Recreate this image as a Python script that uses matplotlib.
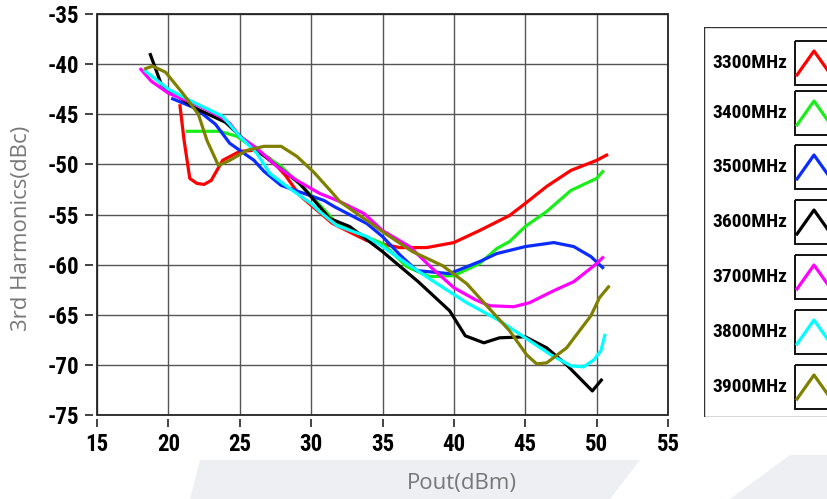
import matplotlib
matplotlib.use('Agg')
import matplotlib.pyplot as plt
from matplotlib.patches import Polygon, Rectangle

# data
labels = ['3300MHz', '3400MHz', '3500MHz', '3600MHz', '3700MHz', '3800MHz', '3900MHz']
colors = ['#ff0000', '#1aee1a', '#0a2cff', '#000000', '#ff00ff', '#00ffff', '#808000']

x3300 = [20.8, 21.1, 21.5, 22.0, 22.5, 23.0, 23.8, 25.0, 26.0, 27.1, 28.2, 29.2, 31.5, 33.9, 36.2, 38.1,
         40.0, 41.8, 43.9, 45.0, 46.5, 48.2, 50.0, 50.8]
y3300 = [-44.0, -47.6, -51.4, -51.9, -52.0, -51.6, -49.6, -48.7, -48.6, -49.4, -51.1, -53.1, -55.9, -57.6,
         -58.3, -58.3, -57.8, -56.6, -55.1, -53.9, -52.2, -50.6, -49.6, -49.0]

x3400 = [21.2, 22.5, 23.6, 24.8, 26.2, 27.9, 29.8, 31.6, 33.5, 35.0, 36.7, 38.3, 40.0, 41.8, 43.0, 43.9,
         45.0, 46.5, 48.2, 50.0, 50.5]
y3400 = [-46.7, -46.7, -46.7, -47.2, -48.6, -50.2, -52.8, -55.6, -57.0, -57.9, -60.2, -61.2, -61.1, -59.9,
         -58.4, -57.7, -56.2, -54.7, -52.6, -51.4, -50.6]

x3500 = [20.2, 21.9, 23.3, 24.3, 26.0, 26.7, 27.9, 29.5, 30.9, 31.6, 33.9, 35.0, 36.2, 37.4, 39.7, 41.8,
         43.0, 45.0, 47.0, 48.4, 49.6, 50.5]
y3500 = [-43.4, -44.4, -46.0, -47.9, -49.6, -50.7, -52.1, -52.9, -53.6, -54.2, -55.9, -57.2, -59.0, -60.6,
         -60.9, -59.7, -58.9, -58.2, -57.8, -58.2, -59.2, -60.4]

x3600 = [18.7, 19.5, 20.0, 21.9, 24.0, 25.2, 27.1, 29.2, 31.3, 32.7, 35.0, 37.5, 39.7, 40.8, 42.1, 43.2,
         45.0, 46.5, 47.9, 49.7, 50.4]
y3600 = [-38.9, -42.0, -42.6, -44.4, -45.8, -47.4, -49.6, -51.9, -55.4, -56.2, -58.7, -61.7, -64.6, -67.1,
         -67.8, -67.3, -67.2, -68.3, -70.0, -72.6, -71.4]

x3700 = [18.0, 18.8, 20.0, 21.9, 23.6, 24.3, 25.0, 26.2, 27.6, 29.0, 30.6, 32.0, 33.7, 35.0, 36.9, 38.5,
         40.0, 41.5, 42.5, 44.2, 45.3, 47.0, 48.4, 50.0, 50.5]
y3700 = [-40.4, -41.7, -42.9, -44.0, -45.2, -45.9, -47.2, -48.4, -50.2, -51.6, -52.9, -53.7, -54.9, -56.6,
         -58.2, -60.4, -62.3, -63.5, -64.1, -64.2, -63.8, -62.6, -61.7, -59.9, -59.2]

x3800 = [18.3, 20.0, 21.9, 23.8, 25.0, 26.2, 27.1, 28.3, 30.0, 30.6, 31.8, 33.9, 35.0, 36.2, 38.5, 40.9,
         43.2, 45.0, 46.8, 48.2, 49.1, 49.8, 50.3, 50.6]
y3800 = [-40.6, -42.5, -43.9, -45.2, -47.2, -48.9, -50.9, -52.2, -53.9, -54.7, -56.1, -57.2, -58.2, -59.4,
         -61.6, -63.8, -65.6, -67.3, -69.0, -70.1, -70.2, -69.5, -68.6, -66.9]

x3900 = [18.3, 18.9, 19.8, 21.0, 22.1, 22.7, 23.5, 24.3, 25.5, 26.7, 27.9, 29.0, 30.2, 31.4, 32.0, 33.9,
         35.2, 37.1, 39.2, 40.9, 42.3, 43.9, 45.1, 45.8, 46.5, 47.9, 48.8, 49.6, 50.2, 50.9]
y3900 = [-40.5, -40.2, -40.8, -42.9, -45.0, -47.6, -50.1, -49.6, -48.6, -48.2, -48.2, -49.2, -50.8, -52.7,
         -53.7, -55.6, -56.9, -58.7, -60.1, -61.9, -64.1, -66.6, -69.0, -69.9, -69.8, -68.3, -66.6, -65.1,
         -63.3, -62.1]

series_x = [x3300, x3400, x3500, x3600, x3700, x3800, x3900]
series_y = [y3300, y3400, y3500, y3600, y3700, y3800, y3900]

xticks = [15, 20, 25, 30, 35, 40, 45, 50, 55]
yticks = [-35, -40, -45, -50, -55, -60, -65, -70, -75]

plt.rcParams['axes.unicode_minus'] = False
W, H = 828, 499
narrow = ['Liberation Sans Narrow', 'DejaVu Sans Condensed', 'Roboto Condensed', 'Roboto']
fig = plt.figure(figsize=(W / 100, H / 100), dpi=100)

# faint background shapes at the bottom
bg = '#eeeff3'
fig.patches.append(Polygon([(190 / W, 0), (200 / W, 39 / H), (640 / W, 39 / H), (610 / W, 0)],
                           closed=True, transform=fig.transFigure, facecolor=bg, edgecolor='none', zorder=0))
fig.patches.append(Polygon([(730 / W, 0), (790 / W, 44 / H), (828 / W, 44 / H), (828 / W, 0)],
                           closed=True, transform=fig.transFigure, facecolor=bg, edgecolor='none', zorder=0))

ax = fig.add_axes([97 / W, (H - 415) / H, 571 / W, 401 / H])
ax.patch.set_alpha(0)
for xs, ys, c in zip(series_x, series_y, colors):
    ax.plot(xs, ys, color=c, lw=2.3, solid_capstyle='butt', zorder=3)

ax.set_xlim(15, 55)
ax.set_ylim(-75, -35)
ax.set_xticks(xticks)
ax.set_yticks(yticks)
ax.grid(True, color='#555555', lw=1.0)
ax.set_axisbelow(True)
for s in ax.spines.values():
    s.set_visible(False)
ax.spines['left'].set_position(('outward', 3))
ax.spines['bottom'].set_position(('outward', 3))
ax.add_patch(Rectangle((0, 0), 1, 1, transform=ax.transAxes, fill=False,
                       edgecolor='#222222', lw=1.3, zorder=4, clip_on=False))
ax.tick_params(direction='out', length=6, width=1.2, color='#222222', pad=4, labelsize=16.5)
for lab in ax.get_xticklabels() + ax.get_yticklabels():
    lab.set_family(narrow)
    lab.set_fontweight('bold')

fig.text(22 / W, 1 - 228 / H, '3rd Harmonics(dBc)', rotation=90, ha='center', va='center',
         fontsize=16, color='#777777', family='Open Sans')
fig.text(462 / W, 1 - 483 / H, 'Pout(dBm)', ha='center', va='center',
         fontsize=16, color='#777777', family='Open Sans')

# legend panel, clipped by the right edge of the figure like the reference
lg = fig.add_axes([704 / W, (H - 417) / H, 160 / W, 390 / H])
lg.set_xlim(0, 160)
lg.set_ylim(390, 0)
lg.axis('off')
lg.add_patch(Rectangle((0, 0), 160, 390, fill=False, edgecolor='#333333', lw=1.0))
row_y = [36, 86, 140, 195, 250, 305, 360]
for yc, lab, c in zip(row_y, labels, colors):
    lg.text(8, yc, lab, ha='left', va='center', fontsize=14, fontweight='bold', family=narrow)
    lg.add_patch(Rectangle((91, yc - 22), 60, 44, fill=False, edgecolor='#111111', lw=1.4))
    lg.plot([93, 110, 127], [yc + 12, yc - 12, yc + 12], color=c, lw=2.3)

fig.savefig('out.png', dpi=100)
